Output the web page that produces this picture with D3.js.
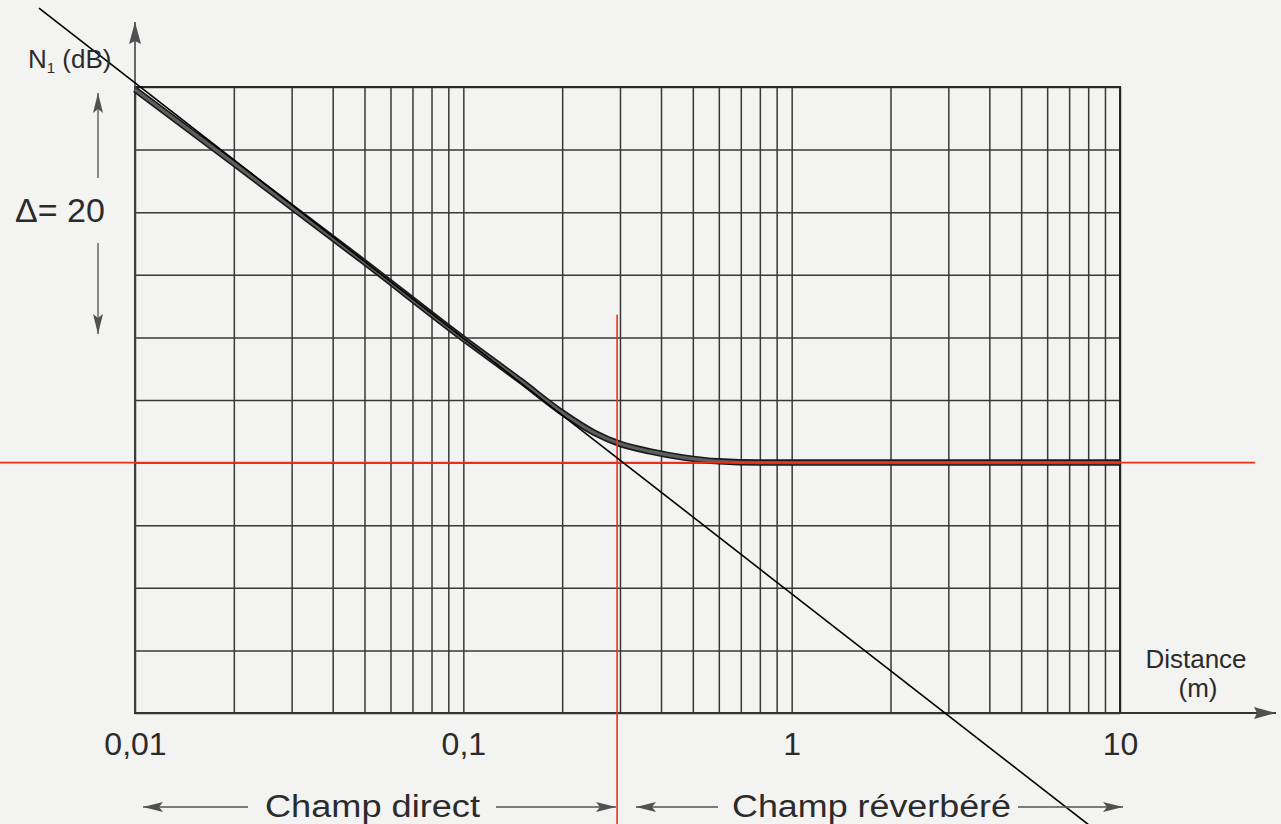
<!DOCTYPE html>
<html>
<head>
<meta charset="utf-8">
<script src="https://cdn.jsdelivr.net/npm/d3@7"></script>
<style>
    body { margin: 0; background: #f3f3f2; }
    svg { display: block; font-family: "Liberation Sans", Arial, sans-serif; }
    .grid line { stroke: #383838; stroke-width: 1.5; }
    .grid path { display: none; }
    .lbl { fill: #2b2b2b; }
</style>
</head>
<body>
<div class="chart-container"></div>
<script>
// Values (distance in m, level in dB, relative scale)
const xTickLabels = [0.01, 0.1, 1, 10];
const curveDistance = [0.01, 0.02, 0.05, 0.1, 0.15, 0.2, 0.25, 0.3, 0.37, 0.47, 0.6, 0.8, 1, 10];
const curveLevel = [49.8, 43.9, 36.0, 29.9, 26.5, 24.0, 22.4, 21.5, 20.9, 20.4, 20.1, 20.0, 20.0, 20.0];
const asymptoteDistance = [0.0051, 8.0];
const asymptoteLevel = [56.3, -8.9];
const reverbLevel = 20;
const reverbSpan = [0.00388, 25.8];
const criticalDistance = 0.294;
const criticalSpan = [31.8, -8.9];

const svg_width = 1281;
const svg_height = 824;
const plot = { left: 135, right: 1120, top: 87, bottom: 713 };

const svg = d3.select('.chart-container').append('svg')
    .attr('width', svg_width).attr('height', svg_height);

const xScale = d3.scaleLog().domain([0.01, 10]).range([plot.left, plot.right]);
const yScale = d3.scaleLinear().domain([0, 50]).range([plot.bottom, plot.top]);

const frFormat = d3.formatLocale({ decimal: ',', thousands: ' ', grouping: [3], currency: ['', ''] }).format('~g');

// arrow heads
const defs = svg.append('defs');
defs.append('marker').attr('id', 'head')
    .attr('viewBox', '0 0 20 10').attr('refX', 20).attr('refY', 5)
    .attr('markerWidth', 20).attr('markerHeight', 10)
    .attr('markerUnits', 'userSpaceOnUse').attr('orient', 'auto')
    .append('path').attr('d', 'M0,0 L20,5 L0,10 L4,5 Z').attr('fill', '#505050');
defs.append('marker').attr('id', 'bighead')
    .attr('viewBox', '0 0 22 12').attr('refX', 22).attr('refY', 6)
    .attr('markerWidth', 22).attr('markerHeight', 12)
    .attr('markerUnits', 'userSpaceOnUse').attr('orient', 'auto')
    .append('path').attr('d', 'M0,0 L22,6 L0,12 L3,6 Z').attr('fill', '#505050');

// grid
svg.append('g').attr('class', 'grid')
    .attr('transform', `translate(0, ${plot.bottom})`)
    .call(d3.axisBottom(xScale).ticks(10).tickFormat('').tickSizeInner(-(plot.bottom - plot.top)).tickSizeOuter(0));
svg.append('g').attr('class', 'grid')
    .attr('transform', `translate(${plot.left}, 0)`)
    .call(d3.axisLeft(yScale).ticks(10).tickFormat('').tickSizeInner(-(plot.right - plot.left)).tickSizeOuter(0));
svg.append('rect')
    .attr('x', plot.left).attr('y', plot.top)
    .attr('width', plot.right - plot.left).attr('height', plot.bottom - plot.top)
    .attr('fill', 'none').attr('stroke', '#262626').attr('stroke-width', 2);

// axes with arrows
svg.append('line')
    .attr('x1', plot.left).attr('y1', plot.bottom).attr('x2', plot.left).attr('y2', 22)
    .attr('stroke', '#444').attr('stroke-width', 1.6).attr('marker-end', 'url(#bighead)');
svg.append('line')
    .attr('x1', plot.left).attr('y1', plot.bottom).attr('x2', 1276).attr('y2', plot.bottom)
    .attr('stroke', '#333').attr('stroke-width', 2).attr('marker-end', 'url(#bighead)');

// tick labels
const xAxis = d3.axisBottom(xScale).tickValues(xTickLabels).tickFormat(frFormat).tickSize(0).tickPadding(19);
const xAxisDraw = svg.append('g').attr('transform', `translate(0, ${plot.bottom})`).call(xAxis);
xAxisDraw.select('.domain').remove();
xAxisDraw.selectAll('text').attr('class', 'lbl').style('font-size', '32px').attr('fill', '#2b2b2b');

// curve N1(distance)
const curveData = curveDistance.map((d, i) => ({ r: d, n: curveLevel[i] }));
const line = d3.line().x(d => xScale(d.r)).y(d => yScale(d.n)).curve(d3.curveMonotoneX);
svg.append('path').datum(curveData).attr('d', line)
    .attr('fill', 'none').attr('stroke', '#1a1a1a').attr('stroke-width', 6.5);
svg.append('path').datum(curveData).attr('d', line)
    .attr('fill', 'none').attr('stroke', '#5e5e5e').attr('stroke-width', 3.2);

// red construction lines
svg.append('line')
    .attr('x1', xScale(reverbSpan[0])).attr('x2', xScale(reverbSpan[1]))
    .attr('y1', yScale(reverbLevel)).attr('y2', yScale(reverbLevel))
    .attr('stroke', '#e8321e').attr('stroke-width', 1.6);
svg.append('line')
    .attr('x1', xScale(criticalDistance)).attr('x2', xScale(criticalDistance))
    .attr('y1', yScale(criticalSpan[0])).attr('y2', yScale(criticalSpan[1]))
    .attr('stroke', '#e8321e').attr('stroke-width', 1.6);

// direct field asymptote
svg.append('line')
    .attr('x1', xScale(asymptoteDistance[0])).attr('y1', yScale(asymptoteLevel[0]))
    .attr('x2', xScale(asymptoteDistance[1])).attr('y2', yScale(asymptoteLevel[1]))
    .attr('stroke', '#000').attr('stroke-width', 1.6);

// labels
const yLabel = svg.append('text').attr('class', 'lbl').attr('x', 28).attr('y', 68).style('font-size', '26px');
yLabel.append('tspan').text('N');
yLabel.append('tspan').text('1').style('font-size', '15px').attr('dy', 5);
yLabel.append('tspan').text(' (dB)').attr('dy', -5);

svg.append('text').attr('class', 'lbl').attr('x', 15).attr('y', 222).style('font-size', '34px').text('Δ= 20');
svg.append('line').attr('x1', 98).attr('x2', 98).attr('y1', 178).attr('y2', 93)
    .attr('stroke', '#666').attr('stroke-width', 1.5).attr('marker-end', 'url(#head)');
svg.append('line').attr('x1', 98).attr('x2', 98).attr('y1', 243).attr('y2', 334)
    .attr('stroke', '#666').attr('stroke-width', 1.5).attr('marker-end', 'url(#head)');

svg.append('text').attr('class', 'lbl').attr('x', 1196).attr('y', 668)
    .attr('text-anchor', 'middle').style('font-size', '26px').text('Distance');
svg.append('text').attr('class', 'lbl').attr('x', 1198).attr('y', 697)
    .attr('text-anchor', 'middle').style('font-size', '26px').text('(m)');

// field zones
const zoneY = 817;
svg.append('text').attr('class', 'lbl').attr('x', 265).attr('y', zoneY)
    .attr('textLength', 215).attr('lengthAdjust', 'spacingAndGlyphs').style('font-size', '31px').text('Champ direct');
svg.append('text').attr('class', 'lbl').attr('x', 732).attr('y', zoneY)
    .attr('textLength', 279).attr('lengthAdjust', 'spacingAndGlyphs').style('font-size', '31px').text('Champ réverbéré');
const zoneArrows = [[248, 143], [496, 616], [718, 636], [1018, 1123]];
zoneArrows.forEach(a => {
    svg.append('line').attr('x1', a[0]).attr('x2', a[1]).attr('y1', 807).attr('y2', 807)
        .attr('stroke', '#555').attr('stroke-width', 1.5).attr('marker-end', 'url(#head)');
});
</script>
</body>
</html>
